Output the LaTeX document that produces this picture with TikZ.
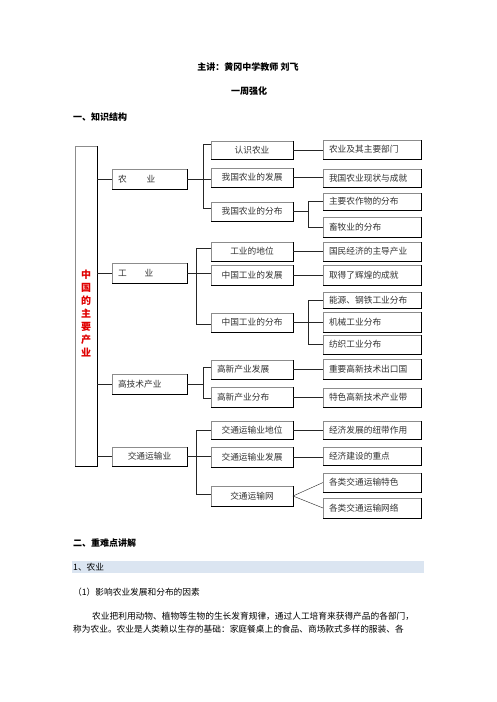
\documentclass[tikz,border=0pt]{standalone}
\usepackage{fontspec}
\setmainfont{Noto Sans CJK SC}
\definecolor{bandblue}{HTML}{DBE5F1}
\definecolor{txtgray}{HTML}{333333}
\definecolor{redtxt}{HTML}{E00000}
\newcommand\mybox[7][]{%
  \pgfmathsetmacro\bw{#5-#3}%
  \pgfmathsetmacro\bh{#6-#4}%
  \pgfmathsetmacro\tw{#5-#3-12}%
  \node[bx, minimum width=\bw pt, minimum height=\bh pt, #1] (#2) at ({(#3+#5)/2},{(#4+#6)/2}) {#7};
  \draw[shade edge] (#2.north east) -- (#2.south east) -- (#2.south west);
}
\begin{document}
\begin{tikzpicture}[x=1pt,y=-1pt,
  bx/.style={draw=black!45, line width=0.5pt, inner sep=0pt, outer sep=0pt,
     font=\fontsize{8.7}{10}\selectfont, text=txtgray},
  lft/.style={text width=\tw pt, align=left, inner xsep=6pt},
  shade edge/.style={draw=black, line width=0.8pt},
  conn/.style={draw=black!85, line width=0.6pt},
  hdr/.style={font=\fontsize{9}{10}\selectfont\bfseries, inner sep=0pt},
  body/.style={font=\fontsize{8.7}{10}\selectfont, inner sep=0pt, anchor=west}]
\useasboundingbox (0,0) rectangle (496,702);
\fill[white] (0,0) rectangle (496,702);

% header
\node[hdr] (h1) at (248,67) {主讲：黄冈中学教师\ 刘飞};
\node[hdr] (h2) at (249,91) {一周强化};
\node[hdr, anchor=west] (h3) at (73,117) {一、知识结构};

% big box
\mybox{big}{75}{146}{97}{466}{}
\node[font=\fontsize{10}{13}\selectfont\bfseries, text=redtxt, align=center, inner sep=0pt] (bigtxt) at (86,313)
  {中\\国\\的\\主\\要\\产\\业};

% level 1
\mybox[lft]{n1}{112}{169}{187}{189}{农\hspace{20pt}业}
\mybox[lft]{n2}{112}{263}{187}{283}{工\hspace{18pt}业}
\mybox[lft]{n3}{112}{374}{187}{394}{高技术产业}
\mybox{n4}{112}{447}{187}{466}{交通运输业}

% level 2
\mybox{a1}{211}{141}{293}{159}{认识农业}
\mybox{a2}{211}{168}{293}{187}{我国农业的发展}
\mybox{a3}{211}{202}{293}{221}{我国农业的分布}
\mybox{a4}{211}{242}{293}{261}{工业的地位}
\mybox{a5}{211}{265}{293}{285}{中国工业的发展}
\mybox{a6}{211}{313}{293}{332}{中国工业的分布}
\mybox[lft]{a7}{211}{360}{293}{379}{高新产业发展}
\mybox[lft]{a8}{211}{387}{293}{407}{高新产业分布}
\mybox{a9}{211}{421}{293}{439}{交通运输业地位}
\mybox{a10}{211}{447}{293}{467}{交通运输业发展}
\mybox{a11}{211}{486}{293}{506}{交通运输网}

% level 3
\mybox[lft]{c1}{323}{140}{421}{159}{农业及其主要部门}
\mybox[lft]{c2}{323}{169}{421}{187}{我国农业现状与成就}
\mybox[lft]{c3}{323}{193}{421}{210}{主要农作物的分布}
\mybox[lft]{c4}{323}{217}{421}{237}{畜牧业的分布}
\mybox[lft]{c5}{323}{242}{421}{261}{国民经济的主导产业}
\mybox[lft]{c6}{323}{265}{421}{285}{取得了辉煌的成就}
\mybox[lft]{c7}{323}{292}{421}{308}{能源、钢铁工业分布}
\mybox[lft]{c8}{323}{312}{421}{332}{机械工业分布}
\mybox[lft]{c9}{323}{335}{421}{354}{纺织工业分布}
\mybox[lft]{c10}{323}{359}{421}{379}{重要高新技术出口国}
\mybox[lft]{c11}{323}{388}{421}{407}{特色高新技术产业带}
\mybox[lft]{c12}{323}{421}{421}{439}{经济发展的纽带作用}
\mybox[lft]{c13}{323}{447}{421}{465}{经济建设的重点}
\mybox[lft]{c14}{323}{473}{421}{492}{各类交通运输特色}
\mybox[lft]{c15}{323}{498}{421}{518}{各类交通运输网络}

% trunk to level 1
\foreach \n in {n1,n2,n3,n4} \draw[conn] (\n.west) -- (\n.west -| big.east);

% level 1 -> level 2
\coordinate (k1t) at (203,144);
\coordinate (k1b) at (203,208);
\draw[conn] (a1.west |- k1t) -- (k1t) -- (k1b) -- (a3.west |- k1b);
\draw[conn] (n1.east) -- (n1.east -| a2.west);

\coordinate (k2t) at (196,248);
\coordinate (k2b) at (196,324);
\draw[conn] (a4.west |- k2t) -- (k2t) -- (k2b) -- (a6.west |- k2b);
\draw[conn] (n2.east) -- (n2.east -| a5.west);

\coordinate (k3t) at (203,367);
\coordinate (k3b) at (203,398);
\draw[conn] (a7.west |- k3t) -- (k3t) -- (k3b) -- (a8.west |- k3b);
\draw[conn] (n3.east) -- (n3.east -| k3t);

\coordinate (k4t) at (196,430);
\coordinate (k4b) at (196,494);
\draw[conn] (a9.west |- k4t) -- (k4t) -- (k4b) -- (a11.west |- k4b);
\draw[conn] (n4.east) -- (n4.east -| a10.west);

% level 2 -> level 3
\draw[conn] (a1.east) -- (a1.east -| c1.west);
\draw[conn] (a2.east) -- (a2.east -| c2.west);
\draw[conn] (a3.east) -- ++(15,0);
\draw[conn] (c3.west) -- ++(-15,0) |- (c4.west);
\draw[conn] (a4.east) -- (a4.east -| c5.west);
\draw[conn] (a5.east) -- (a5.east -| c6.west);
\draw[conn] (a6.east) -- (a6.east -| c8.west);
\draw[conn] (c7.west) -- ++(-15,0) |- (c9.west);
\draw[conn] (a7.east) -- (a7.east -| c10.west);
\draw[conn] (a8.east) -- (a8.east -| c11.west);
\draw[conn] (a9.east) -- (a9.east -| c12.west);
\draw[conn] (a10.east) -- (a10.east -| c13.west);
\draw[conn, line width=0.4pt] (c14.west) -- (a11.east) -- (c15.west);

% lower text
\node[hdr, anchor=west] (s2) at (73,543) {二、重难点讲解};
\fill[bandblue] (72,561) rectangle (424,573);
\node[body] (s21) at (73,567) {1、农业};
\node[body] (s22) at (73,592) {（1）影响农业发展和分布的因素};
\node[body] (p1) at (92,616) {农业把利用动物、植物等生物的生长发育规律，通过人工培育来获得产品的各部门，};
\node[body] (p2) at (73,629) {称为农业。农业是人类赖以生存的基础：家庭餐桌上的食品、商场款式多样的服装、各};
\end{tikzpicture}
\end{document}
